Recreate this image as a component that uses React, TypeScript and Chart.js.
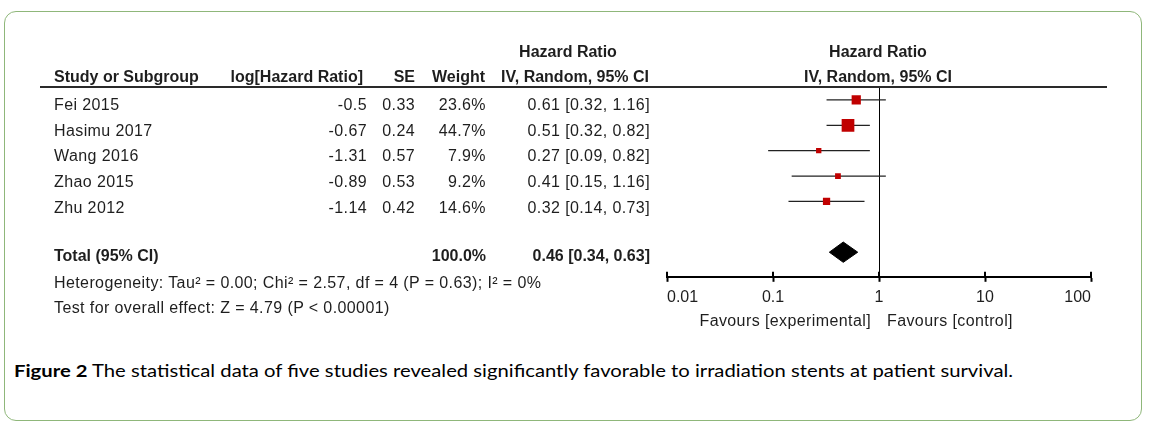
import React, { useEffect, useLayoutEffect, useRef } from "react";
import { Chart, registerables } from "chart.js";

Chart.register(...registerables);

// ---------- data ----------
const studies = ["Fei 2015", "Hasimu 2017", "Wang 2016", "Zhao 2015", "Zhu 2012"];
const logHR = ["-0.5", "-0.67", "-1.31", "-0.89", "-1.14"];
const seVals = ["0.33", "0.24", "0.57", "0.53", "0.42"];
const weights = [23.6, 44.7, 7.9, 9.2, 14.6];
const hrVals = [0.61, 0.51, 0.27, 0.41, 0.32];
const ciLow = [0.32, 0.32, 0.09, 0.15, 0.14];
const ciHigh = [1.16, 0.82, 0.82, 1.16, 0.73];
const totalHR = 0.46;
const totalLow = 0.34;
const totalHigh = 0.63;
const totalRow = 6;
const tickValues = [0.01, 0.1, 1, 10, 100];
const tickLabels = ["0.01", "0.1", "1", "10", "100"];

const heterogeneity = "Heterogeneity: Tau² = 0.00; Chi² = 2.57, df = 4 (P = 0.63); I² = 0%";
const overall = "Test for overall effect: Z = 4.79 (P < 0.00001)";
const caption = "The statistical data of five studies revealed significantly favorable to irradiation stents at patient survival.";

const FONT = "'Liberation Sans', Arial, sans-serif";
const COLOR = "#1e1e1e";

type TProps = { x: number; base: number; align?: "left" | "right" | "center"; bold?: boolean; children: React.ReactNode };

function T({ x, base, align = "left", bold = false, children }: TProps) {
  const size = 16;
  const lh = 20;
  const top = base - (lh / 2 + 0.3465 * size);
  const w = 600;
  let left = x;
  if (align === "right") left = x - w;
  if (align === "center") left = x - w / 2;
  return (
    <div
      style={{
        position: "absolute",
        left,
        top,
        width: w,
        height: lh,
        lineHeight: lh + "px",
        fontSize: size,
        fontWeight: bold ? 700 : 400,
        letterSpacing: bold ? 0 : 0.4,
        textAlign: align,
        whiteSpace: "nowrap",
        fontFamily: FONT,
        color: COLOR,
      }}
    >
      {children}
    </div>
  );
}

function fmtCI(h: number, l: number, u: number) {
  return `${h.toFixed(2)} [${l.toFixed(2)}, ${u.toFixed(2)}]`;
}

function ForestPlot() {
  const ref = useRef<HTMLCanvasElement | null>(null);
  useEffect(() => {
    if (!ref.current) return;
    const ciSets = studies.map((_, i) => ({
      type: "line" as const,
      data: [
        { x: ciLow[i], y: i },
        { x: ciHigh[i], y: i },
      ],
      borderColor: "#222",
      borderWidth: 1.3,
      pointRadius: 0,
      fill: false,
      order: 2,
    }));
    const markers = {
      type: "scatter" as const,
      data: hrVals.map((v, i) => ({ x: v, y: i })),
      pointStyle: "rect",
      pointRadius: weights.map((w) => (1.9 * Math.sqrt(w)) / Math.SQRT2),
      backgroundColor: "#c00000",
      borderColor: "#c00000",
      borderWidth: 0,
      order: 1,
    };
    const diamond = {
      type: "line" as const,
      data: [
        { x: totalLow, y: totalRow },
        { x: totalHR, y: totalRow - 0.4 },
        { x: totalHigh, y: totalRow },
        { x: totalHR, y: totalRow + 0.4 },
        { x: totalLow, y: totalRow },
      ],
      borderColor: "#000",
      backgroundColor: "#000",
      borderWidth: 1,
      pointRadius: 0,
      fill: "shape",
      tension: 0,
      order: 1,
    };
    const upTicks = {
      id: "upTicks",
      afterDraw(chart: any) {
        const sc = chart.scales.x;
        const ctx = chart.ctx;
        ctx.save();
        ctx.strokeStyle = "#000";
        ctx.lineWidth = 2;
        for (const t of sc.ticks) {
          const px = Math.round(sc.getPixelForValue(t.value));
          ctx.beginPath();
          ctx.moveTo(px, sc.top - 5);
          ctx.lineTo(px, sc.top);
          ctx.stroke();
        }
        ctx.restore();
      },
    };
    const chart = new Chart(ref.current, {
      type: "scatter",
      data: { datasets: [...ciSets, markers, diamond] as any },
      options: {
        animation: false,
        responsive: false,
        maintainAspectRatio: false,
        layout: { padding: { left: 67, right: 49, top: 26, bottom: 37 } },
        plugins: { legend: { display: false }, tooltip: { enabled: false } },
        scales: {
          x: {
            type: "logarithmic",
            min: 0.01,
            max: 100,
            afterBuildTicks: (scale: any) => {
              scale.ticks = tickValues.map((v) => ({ value: v }));
            },
            ticks: {
              callback: (v: any) => tickLabels[tickValues.indexOf(Number(v))] ?? "",
              align: "inner",
              padding: 6,
              color: COLOR,
              font: { family: FONT, size: 16 },
              autoSkip: false,
              maxRotation: 0,
            },
            grid: {
              display: true,
              drawOnChartArea: true,
              color: (c: any) => (c.tick && c.tick.value === 1 ? "#000" : "rgba(0,0,0,0)"),
              lineWidth: 1,
              tickLength: 5,
              tickColor: "#000",
              tickWidth: 2,
            },
            border: { display: true, color: "#000", width: 2 },
          },
          y: {
            type: "linear",
            reverse: true,
            min: -0.55,
            max: 6.97,
            display: false,
            grid: { display: false },
          },
        },
      },
      plugins: [upTicks],
    } as any);
    return () => chart.destroy();
  }, []);
  return (
    <div style={{ position: "absolute", left: 600, top: 60, width: 540, height: 290 }}>
      <canvas ref={ref} width={540} height={290} style={{ width: 540, height: 290 }} />
    </div>
  );
}

function Caption() {
  const ref = useRef<HTMLDivElement | null>(null);
  useLayoutEffect(() => {
    const fit = () => {
      const el = ref.current;
      if (!el) return;
      el.style.transform = "none";
      const w = el.getBoundingClientRect().width;
      if (w > 0) el.style.transform = `scaleX(${999 / w})`;
    };
    fit();
    if ((document as any).fonts && (document as any).fonts.ready) (document as any).fonts.ready.then(fit);
  }, []);
  return (
    <div
      ref={ref}
      style={{
        position: "absolute",
        left: 14,
        top: 360,
        whiteSpace: "nowrap",
        fontFamily: "Lato, 'Open Sans', sans-serif",
        fontSize: 17,
        lineHeight: "21px",
        color: "#000",
        transformOrigin: "0 50%",
      }}
    >
      <b>Figure 2</b> {caption}
    </div>
  );
}

export default function App() {
  const rowBase = [111, 137, 162, 188, 214];
  return (
    <div
      style={{
        position: "absolute",
        left: 0,
        top: 0,
        width: 1155,
        height: 427,
        background: "#fff",
        overflow: "hidden",
        fontFamily: FONT,
      }}
    >
      <div
        style={{
          position: "absolute",
          left: 4,
          top: 11,
          width: 1138,
          height: 410,
          boxSizing: "border-box",
          border: "1.5px solid #8fb77a",
          borderRadius: 12,
        }}
      />
      <ForestPlot />
      {/* header */}
      <T x={568} base={58} align="center" bold>Hazard Ratio</T>
      <T x={878} base={58} align="center" bold>Hazard Ratio</T>
      <T x={54} base={83} bold>Study or Subgroup</T>
      <T x={363} base={83} align="right" bold>log[Hazard Ratio]</T>
      <T x={415} base={83} align="right" bold>SE</T>
      <T x={485} base={83} align="right" bold>Weight</T>
      <T x={649} base={83} align="right" bold>IV, Random, 95% CI</T>
      <T x={878} base={83} align="center" bold>IV, Random, 95% CI</T>
      <div style={{ position: "absolute", left: 40, top: 86, width: 1067, height: 2, background: "#2a2a2a" }} />
      {/* rows */}
      {studies.map((s, i) => (
        <React.Fragment key={s}>
          <T x={54} base={rowBase[i]}>{s}</T>
          <T x={367} base={rowBase[i]} align="right">{logHR[i]}</T>
          <T x={415} base={rowBase[i]} align="right">{seVals[i]}</T>
          <T x={486} base={rowBase[i]} align="right">{weights[i].toFixed(1) + "%"}</T>
          <T x={650} base={rowBase[i]} align="right">{fmtCI(hrVals[i], ciLow[i], ciHigh[i])}</T>
        </React.Fragment>
      ))}
      <T x={54} base={262} bold>Total (95% CI)</T>
      <T x={486} base={262} align="right" bold>100.0%</T>
      <T x={650} base={262} align="right" bold>{fmtCI(totalHR, totalLow, totalHigh)}</T>
      <T x={54} base={289}>{heterogeneity}</T>
      <T x={54} base={314}>{overall}</T>
      <T x={871} base={327} align="right">Favours [experimental]</T>
      <T x={887} base={327}>Favours [control]</T>
      <Caption />
    </div>
  );
}
